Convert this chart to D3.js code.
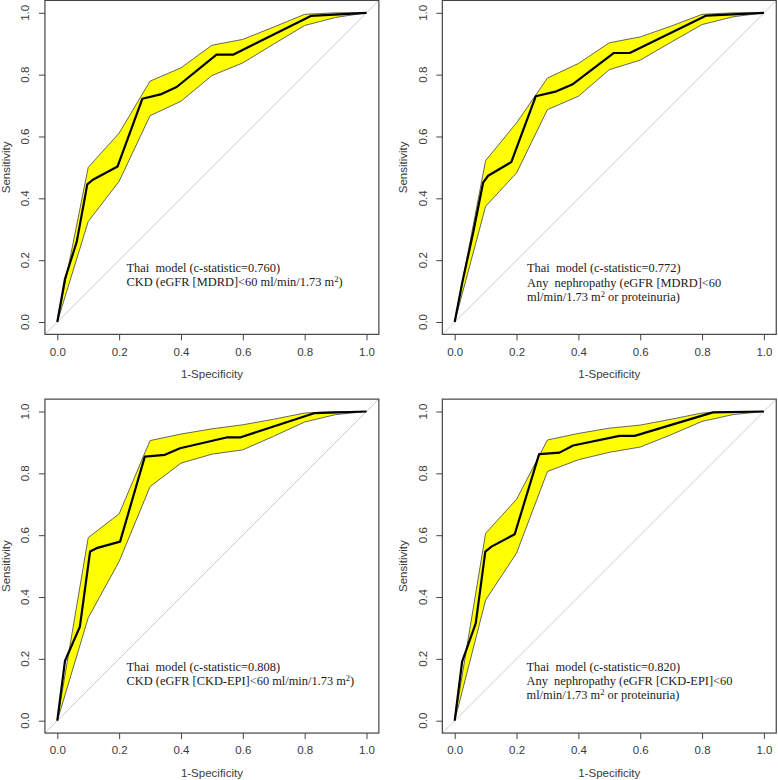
<!DOCTYPE html>
<html>
<head>
<meta charset="utf-8">
<script src="https://cdn.jsdelivr.net/npm/d3@7/dist/d3.min.js"></script>
<style>
body { margin: 0; background: #fff; }
svg { display: block; }
</style>
</head>
<body>
<svg id="chart" width="778" height="780"></svg>
<script>
// ---------- DATA ----------
const ticks = [0, 0.2, 0.4, 0.6, 0.8, 1.0];
const tickLabels = ["0.0", "0.2", "0.4", "0.6", "0.8", "1.0"];
const bandX = [0, 0.1, 0.2, 0.3, 0.4, 0.5, 0.6, 0.7, 0.8, 0.9, 1.0];

// Panel A: CKD (MDRD)
const rocXA = [0, 0.025, 0.063, 0.097, 0.115, 0.195, 0.275, 0.337, 0.386, 0.515, 0.57, 0.82, 1];
const rocYA = [0, 0.14, 0.26, 0.445, 0.46, 0.503, 0.722, 0.737, 0.76, 0.865, 0.865, 0.99, 1];
const upperA = [0, 0.50, 0.611, 0.779, 0.822, 0.895, 0.914, 0.954, 0.995, 1.0, 1.0];
const lowerA = [0, 0.325, 0.455, 0.667, 0.714, 0.797, 0.838, 0.899, 0.959, 0.985, 1.0];

// Panel B: Any nephropathy (MDRD)
const rocXB = [0, 0.025, 0.06, 0.092, 0.108, 0.183, 0.262, 0.329, 0.38, 0.515, 0.566, 0.814, 1];
const rocYB = [0, 0.13, 0.29, 0.451, 0.473, 0.517, 0.73, 0.746, 0.768, 0.87, 0.87, 0.991, 1];
const upperB = [0, 0.522, 0.644, 0.789, 0.836, 0.903, 0.922, 0.957, 0.995, 1.0, 1.0];
const lowerB = [0, 0.374, 0.482, 0.687, 0.730, 0.816, 0.847, 0.905, 0.962, 0.987, 1.0];

// Panel C: CKD (CKD-EPI)
const rocXC = [0, 0.025, 0.073, 0.106, 0.127, 0.203, 0.283, 0.348, 0.397, 0.547, 0.591, 0.833, 1];
const rocYC = [0, 0.194, 0.304, 0.547, 0.558, 0.579, 0.854, 0.86, 0.881, 0.916, 0.916, 0.995, 1];
const upperC = [0, 0.592, 0.669, 0.906, 0.927, 0.944, 0.957, 0.975, 0.995, 1.0, 1.0];
const lowerC = [0, 0.333, 0.515, 0.757, 0.833, 0.862, 0.876, 0.92, 0.966, 0.99, 1.0];

// Panel D: Any nephropathy (CKD-EPI)
const rocXD = [0, 0.024, 0.068, 0.099, 0.119, 0.194, 0.273, 0.339, 0.383, 0.533, 0.582, 0.835, 1];
const rocYD = [0, 0.191, 0.315, 0.547, 0.563, 0.603, 0.862, 0.867, 0.89, 0.921, 0.921, 0.997, 1];
const upperD = [0, 0.606, 0.716, 0.908, 0.929, 0.946, 0.956, 0.975, 0.995, 1.0, 1.0];
const lowerD = [0, 0.39, 0.542, 0.806, 0.844, 0.868, 0.885, 0.925, 0.968, 0.99, 1.0];

const annotA = [["Thai  model (c-statistic=0.760)"], ["CKD (eGFR [MDRD]<60 ml/min/1.73 m", "2", ")"]];
const annotB = [["Thai  model (c-statistic=0.772)"], ["Any  nephropathy (eGFR [MDRD]<60"], ["ml/min/1.73 m", "2", " or proteinuria)"]];
const annotC = [["Thai  model (c-statistic=0.808)"], ["CKD (eGFR [CKD-EPI]<60 ml/min/1.73 m", "2", ")"]];
const annotD = [["Thai  model (c-statistic=0.820)"], ["Any  nephropathy (eGFR [CKD-EPI]<60"], ["ml/min/1.73 m", "2", " or proteinuria)"]];

const xLabel = "1-Specificity";
const yLabel = "Sensitivity";

// ---------- LAYOUT ----------
const unit = 309.2;
const panels = [
  {x0: 57.3, y0: 322.0, rx: rocXA, ry: rocYA, up: upperA, lo: lowerA, annot: annotA, tx: 126.5, ty: 271.8, ylx: 6},
  {x0: 454.7, y0: 322.0, rx: rocXB, ry: rocYB, up: upperB, lo: lowerB, annot: annotB, tx: 527, ty: 272.3, ylx: 403},
  {x0: 57.3, y0: 720.7, rx: rocXC, ry: rocYC, up: upperC, lo: lowerC, annot: annotC, tx: 126.5, ty: 671, ylx: 6},
  {x0: 454.7, y0: 720.7, rx: rocXD, ry: rocYD, up: upperD, lo: lowerD, annot: annotD, tx: 526.5, ty: 671, ylx: 403}
];

const svg = d3.select("#chart");
const axisFont = "Liberation Sans, Arial, sans-serif";
const serifFont = "Liberation Serif, Times New Roman, serif";

panels.forEach((p, i) => {
  const x = d3.scaleLinear().domain([-0.04, 1.04]).range([p.x0 - 0.04 * unit, p.x0 + 1.04 * unit]);
  const y = d3.scaleLinear().domain([-0.04, 1.04]).range([p.y0 + 0.04 * unit, p.y0 - 1.04 * unit]);
  const g = svg.append("g");

  const clipId = "clip" + i;
  svg.append("clipPath").attr("id", clipId).append("rect")
    .attr("x", x(-0.04)).attr("y", y(1.04))
    .attr("width", x(1.04) - x(-0.04)).attr("height", y(-0.04) - y(1.04));

  const inner = g.append("g").attr("clip-path", `url(#${clipId})`);

  // diagonal reference line
  inner.append("line")
    .attr("x1", x(-0.04)).attr("y1", y(-0.04))
    .attr("x2", x(1.04)).attr("y2", y(1.04))
    .attr("stroke", "#cccccc").attr("stroke-width", 1);

  // confidence band
  const bandPts = bandX.map((bx, k) => [bx, p.up[k]])
    .concat(bandX.map((bx, k) => [bx, p.lo[k]]).reverse());
  inner.append("path")
    .attr("d", d3.line().x(d => x(d[0])).y(d => y(d[1]))(bandPts) + "Z")
    .attr("fill", "#ffff00").attr("stroke", "#555555").attr("stroke-width", 0.9);

  // ROC curve
  const rocPts = p.rx.map((v, k) => [v, p.ry[k]]);
  inner.append("path")
    .attr("d", d3.line().x(d => x(d[0])).y(d => y(d[1]))(rocPts))
    .attr("fill", "none").attr("stroke", "#000").attr("stroke-width", 2.2)
    .attr("stroke-linejoin", "round");

  // axes
  const bottom = y(-0.04);
  const left = x(-0.04);
  const xAxis = d3.axisBottom(x).tickValues(ticks).tickFormat((d, k) => tickLabels[k])
    .tickSizeOuter(0).tickSizeInner(6).tickPadding(7);
  const gx = g.append("g").attr("transform", `translate(0,${bottom})`).call(xAxis);
  gx.select(".domain").remove();
  gx.selectAll("line").attr("stroke", "#444");
  gx.selectAll("text").attr("font-family", axisFont).attr("font-size", 11.5).attr("fill", "#3a3a3a");

  const yAxis = d3.axisLeft(y).tickValues(ticks).tickFormat((d, k) => tickLabels[k])
    .tickSizeOuter(0).tickSizeInner(6);
  const gy = g.append("g").attr("transform", `translate(${left},0)`).call(yAxis);
  gy.select(".domain").remove();
  gy.selectAll("line").attr("stroke", "#444");
  gy.selectAll("text").remove();
  ticks.forEach((t, k) => {
    gy.append("text")
      .attr("transform", `translate(${p.x0 - 32 - left},${y(t)}) rotate(-90)`)
      .attr("text-anchor", "middle").attr("dy", "0.35em")
      .attr("font-family", axisFont).attr("font-size", 11.5).attr("fill", "#3a3a3a")
      .text(tickLabels[k]);
  });

  // plot box
  g.append("rect")
    .attr("x", left).attr("y", y(1.04))
    .attr("width", x(1.04) - left).attr("height", bottom - y(1.04))
    .attr("fill", "none").attr("stroke", "#444").attr("stroke-width", 1.2);

  // axis titles
  g.append("text")
    .attr("x", x(0.5)).attr("y", p.y0 + 52 + 4)
    .attr("text-anchor", "middle")
    .attr("font-family", axisFont).attr("font-size", 11.5).attr("fill", "#3a3a3a")
    .text(xLabel);
  g.append("text")
    .attr("transform", `translate(${p.ylx},${y(0.5)}) rotate(-90)`)
    .attr("text-anchor", "middle").attr("dy", "0.35em")
    .attr("font-family", axisFont).attr("font-size", 11.5).attr("fill", "#3a3a3a")
    .text(yLabel);

  // annotation
  p.annot.forEach((parts, li) => {
    const t = g.append("text")
      .attr("x", p.tx).attr("y", p.ty + li * 14.2)
      .attr("font-family", serifFont).attr("font-size", 12.4).attr("fill", "#1a1a1a")
      .attr("xml:space", "preserve").style("white-space", "pre");
    parts.forEach((s, si) => {
      if (parts.length === 3 && si === 1) {
        t.append("tspan").attr("dy", -4).attr("font-size", 8.5).text(s);
      } else if (parts.length === 3 && si === 2) {
        t.append("tspan").attr("dy", 4).text(s);
      } else {
        t.append("tspan").text(s);
      }
    });
  });
});
</script>
</body>
</html>
